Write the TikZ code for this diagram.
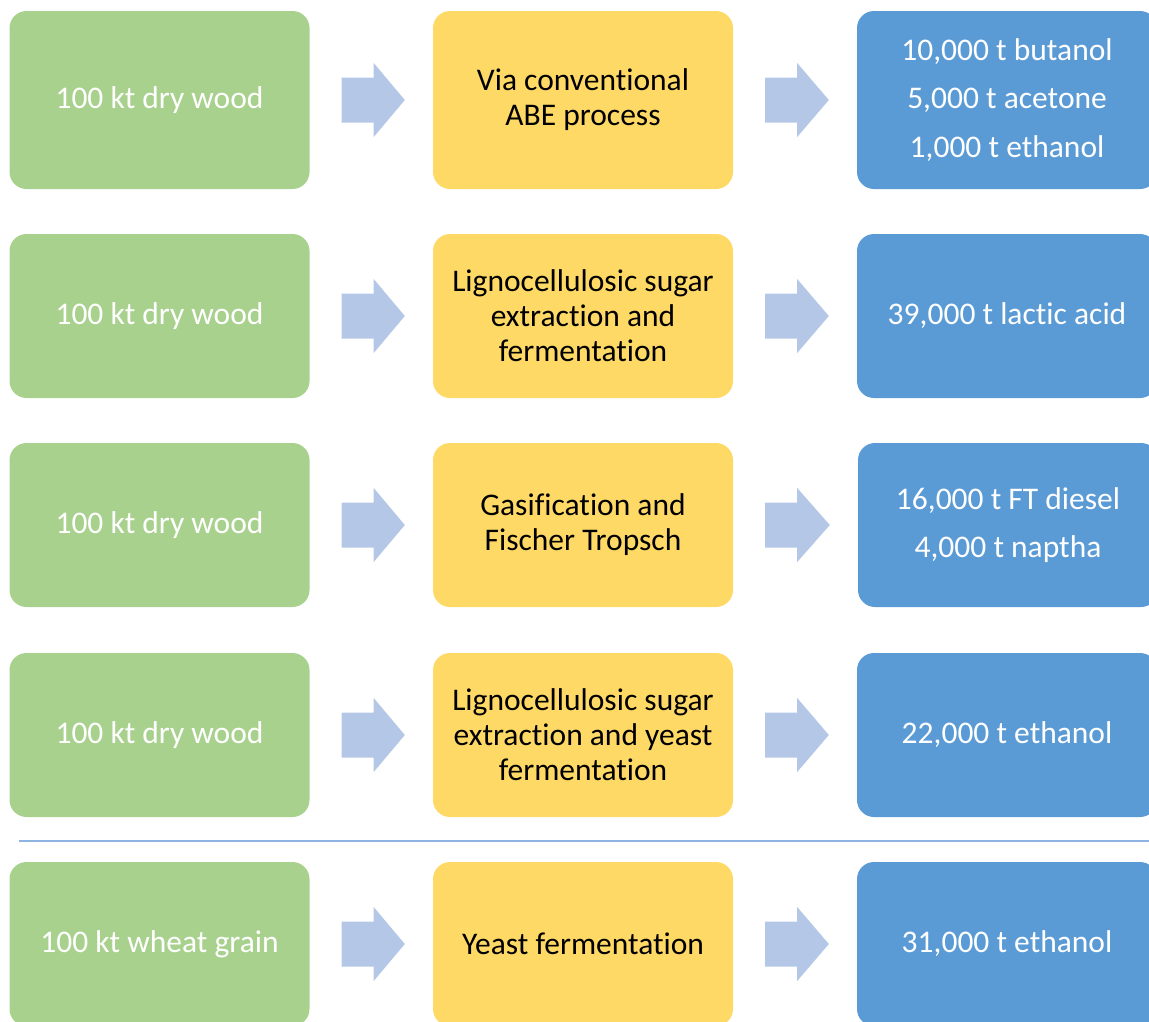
\documentclass[tikz,border=0pt]{standalone}
\usepackage{fontspec}
\setmainfont{Carlito}[Ligatures=NoCommon]
\usetikzlibrary{calc}
\definecolor{feedgreen}{HTML}{A9D18E}
\definecolor{procyellow}{HTML}{FFD966}
\definecolor{prodblue}{HTML}{5B9BD5}
\definecolor{arrowblue}{HTML}{B4C7E7}
\definecolor{ruleblue}{HTML}{8FB4E3}
\begin{document}
\begin{tikzpicture}[x=1pt,y=-1pt,
  box/.style={rounded corners=17pt, minimum width=300pt, inner sep=0pt, align=center,
              font=\fontsize{31.5}{35}\selectfont},
  feed/.style={box, fill=feedgreen, text=white},
  proc/.style={box, fill=procyellow, text=black},
  prod/.style={box, fill=prodblue, text=white,
               font=\fontsize{31.5}{48.5}\selectfont},
]
\useasboundingbox (0,0) rectangle (1149,1021);
\clip (0,0) rectangle (1149,1021);

% block arrow between two boxes of a row: shaft then head
\newcommand{\flowarrow}[2]{%
  \fill[arrowblue] ($(#1.east)+(32,22.5)$) -- ++(32,0) -- ++(0,14.5)
    -- ($(#2.west)+(-28,0)$) -- ($(#1.east)+(64,-37)$) -- ++(0,14.5)
    -- ++(-32,0) -- cycle;}

% row 1
\node[feed, minimum height=178pt] (f1) at (159.5,100) {100 kt dry wood};
\node[proc, minimum height=178pt] (p1) at (583,100) {Via conventional\\ABE process};
\node[prod, minimum height=178pt] (r1) at (1007,100) {10,000 t butanol\\5,000 t acetone\\1,000 t ethanol};
% row 2
\node[feed, minimum height=164pt] (f2) at (159.5,316) {100 kt dry wood};
\node[proc, minimum height=164pt] (p2) at (583,316) {Lignocellulosic sugar\\extraction and\\fermentation};
\node[prod, minimum height=164pt] (r2) at (1007,316) {39,000 t lactic acid};
% row 3
\node[feed, minimum height=164pt] (f3) at (159.5,525) {100 kt dry wood};
\node[proc, minimum height=164pt] (p3) at (583,525) {Gasification and\\Fischer Tropsch};
\node[prod, minimum height=164pt] (r3) at (1008,525) {16,000 t FT diesel\\4,000 t naptha};
% row 4
\node[feed, minimum height=164pt] (f4) at (159.5,735) {100 kt dry wood};
\node[proc, minimum height=164pt] (p4) at (583,735) {Lignocellulosic sugar\\extraction and yeast\\fermentation};
\node[prod, minimum height=164pt] (r4) at (1007,735) {22,000 t ethanol};
% separator
\draw[ruleblue, line width=2.2pt] (19,841) -- (1149,841);
% row 5
\node[feed, minimum height=164pt] (f5) at (159.5,944) {100 kt wheat grain};
\node[proc, minimum height=164pt] (p5) at (583,944) {Yeast fermentation};
\node[prod, minimum height=164pt] (r5) at (1007,944) {31,000 t ethanol};

% flow arrows
\flowarrow{f1}{p1} \flowarrow{p1}{r1}
\flowarrow{f2}{p2} \flowarrow{p2}{r2}
\flowarrow{f3}{p3} \flowarrow{p3}{r3}
\flowarrow{f4}{p4} \flowarrow{p4}{r4}
\flowarrow{f5}{p5} \flowarrow{p5}{r5}
\end{tikzpicture}
\end{document}
